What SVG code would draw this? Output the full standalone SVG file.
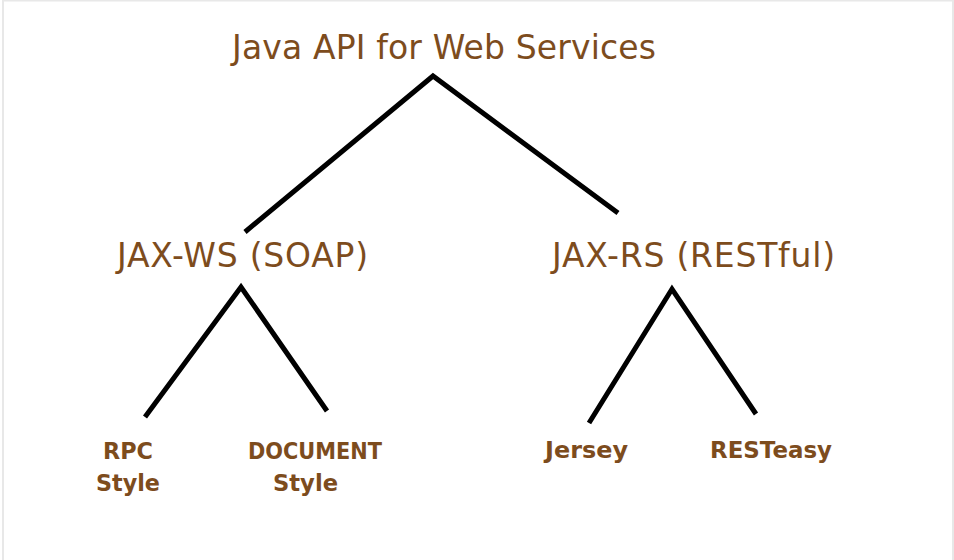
<svg xmlns="http://www.w3.org/2000/svg" width="954" height="560" viewBox="0 0 954 560">
<style>
.t{font-family:"DejaVu Sans",Verdana,sans-serif;fill:#7d4c1d}
.h{font-size:33px}
.l{font-size:23px;font-weight:bold}
.c{fill:none;stroke:#000;stroke-width:5;stroke-linejoin:miter;stroke-linecap:butt}
</style>
<rect x="0" y="0" width="954" height="560" fill="#fff"/>
<g id="frame" fill="#e8e8e8">
<rect x="2" y="0" width="950" height="1.5"/>
<rect x="2" y="0" width="2" height="560"/>
<rect x="952" y="0" width="2" height="560"/>
</g>
<g id="connectors">
<polyline class="c" points="245,232 433,76 618,213"/>
<polyline class="c" points="145,417 241,287 327,411"/>
<polyline class="c" points="589,423 672,289 756,414"/>
</g>
<g id="root"><text class="t h" x="232" y="59" textLength="424">Java API for Web Services</text></g>
<g id="jaxws"><text class="t h" x="117" y="267" textLength="251">JAX-WS (SOAP)</text></g>
<g id="jaxrs"><text class="t h" x="552" y="267" textLength="283">JAX-RS (RESTful)</text></g>
<g id="rpc"><text class="t l" x="103" y="459" textLength="50" lengthAdjust="spacingAndGlyphs">RPC</text><text class="t l" x="96" y="491" textLength="64" lengthAdjust="spacingAndGlyphs">Style</text></g>
<g id="document"><text class="t l" x="248" y="459" textLength="134" lengthAdjust="spacingAndGlyphs">DOCUMENT</text><text class="t l" x="273" y="491" textLength="65" lengthAdjust="spacingAndGlyphs">Style</text></g>
<g id="jersey"><text class="t l" x="545" y="458" textLength="83" lengthAdjust="spacingAndGlyphs">Jersey</text></g>
<g id="resteasy"><text class="t l" x="710" y="458" textLength="122" lengthAdjust="spacingAndGlyphs">RESTeasy</text></g>
</svg>
